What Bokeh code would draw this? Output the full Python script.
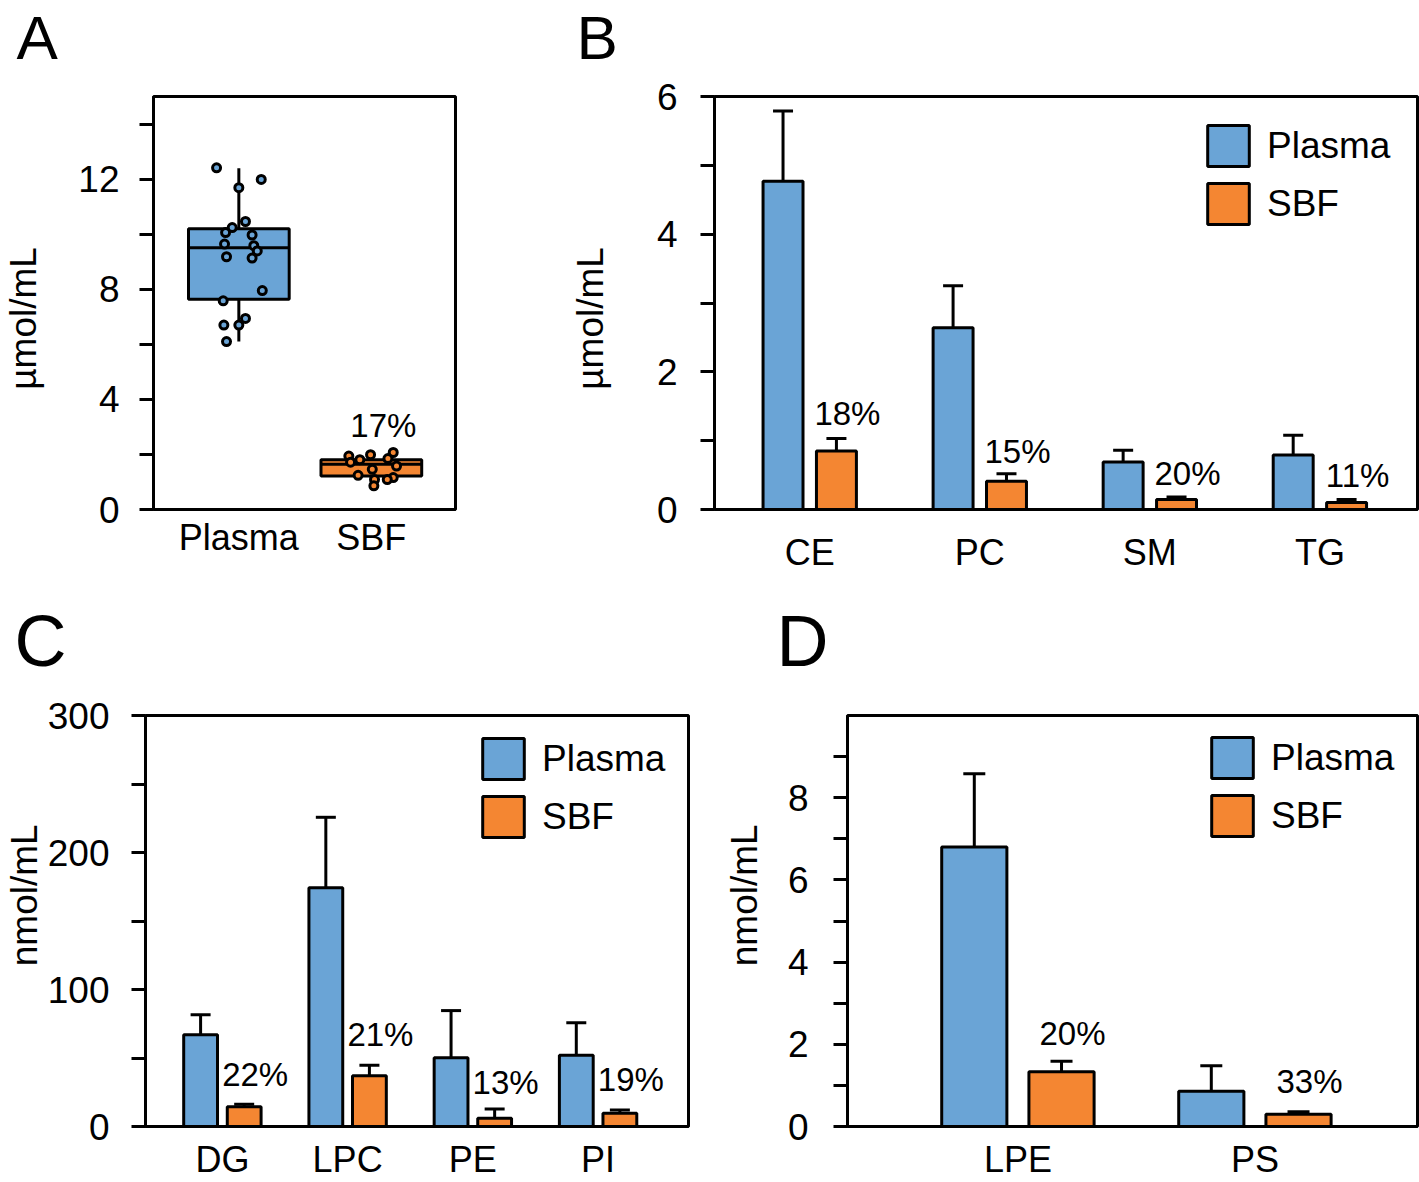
import numpy as np
from bokeh.plotting import figure
from bokeh.models import (ColumnDataSource, FixedTicker, Legend, LegendItem,
                          Whisker, TeeHead, Range1d)
from bokeh.layouts import column, row
from bokeh.embed import file_html
from bokeh.resources import INLINE
from bokeh.core.properties import value

FONT = "Liberation Sans"
BLUE = "#6AA4D6"
ORANGE = "#F48632"
NB = "\u00a0"

# ---------------- data ----------------
# Panel A (box plot, umol/mL)
groups_A = ["Plasma", "SBF"]
plasma_pts = [12.41, 11.99, 11.69, 10.46, 10.24, 10.06, 9.97, 9.64, 9.58, 9.39,
              9.18, 9.13, 7.95, 7.58, 6.94, 6.70, 6.70, 6.10]
plasma_jit = [-0.168, 0.169, 0.0, 0.05, -0.05, -0.10, 0.10, -0.108, 0.113, 0.139,
              -0.093, 0.10, 0.177, -0.118, 0.05, -0.113, 0.0, -0.093]
sbf_pts = [1.94, 1.81, 1.72, 1.99, 2.07, 1.85, 1.58, 1.46, 1.24, 1.16, 1.09, 1.09, 0.86]
sbf_jit = [-0.17, -0.087, -0.157, -0.006, 0.165, 0.125, 0.19, 0.007, -0.10, 0.165,
           0.12, 0.024, 0.019]
box_q1 = [7.64, 1.22]
box_med = [9.51, 1.64]
box_q3 = [10.20, 1.81]
whisk_lo = [6.10, 0.86]
whisk_hi = [12.39, 2.09]
pct_A = ["17%"]
pct_A_y = [3.04]

# Panel B (umol/mL)
cats_B = ["CE", "PC", "SM", "TG"]
plasma_B = [4.77, 2.64, 0.69, 0.79]
plasma_B_sd = [1.02, 0.61, 0.17, 0.29]
sbf_B = [0.85, 0.41, 0.145, 0.10]
sbf_B_sd = [0.18, 0.11, 0.035, 0.045]
pct_B = ["18%", "15%", "20%", "11%"]
pct_B_y = [1.39, 0.84, 0.52, 0.49]

# Panel C (nmol/mL)
cats_C = ["DG", "LPC", "PE", "PI"]
plasma_C = [67.0, 174.2, 50.1, 52.0]
plasma_C_sd = [14.5, 51.5, 34.5, 23.7]
sbf_C = [14.5, 37.0, 6.0, 9.7]
sbf_C_sd = [1.7, 7.7, 6.8, 2.3]
pct_C = ["22%", "21%", "13%", "19%"]
pct_C_y = [38.0, 67.4, 32.2, 34.1]

# Panel D (nmol/mL)
cats_D = ["LPE", "PS"]
plasma_D = [6.80, 0.86]
plasma_D_sd = [1.78, 0.62]
sbf_D = [1.33, 0.30]
sbf_D_sd = [0.26, 0.06]
pct_D = ["20%", "33%"]
pct_D_y = [2.26, 1.10]

panel_letters_top = ["A", "B"]
panel_letters_bottom = ["C", "D"]


def style_axes(p, yticks, yminor, ystandoff, xstandoff, xticks, xlabels, ylabel, ylstandoff):
    p.xgrid.visible = False
    p.ygrid.visible = False
    p.outline_line_color = "black"
    p.outline_line_width = 3
    p.outline_line_alpha = 1
    p.yaxis.ticker = FixedTicker(ticks=yticks, minor_ticks=yminor)
    p.yaxis.major_tick_out = 14
    p.yaxis.major_tick_in = 0
    p.yaxis.minor_tick_out = 14
    p.yaxis.minor_tick_in = 0
    p.yaxis.major_tick_line_width = 3
    p.yaxis.minor_tick_line_width = 3
    p.yaxis.axis_line_width = 3
    p.yaxis.major_label_text_font = FONT
    p.yaxis.major_label_text_font_size = "37px"
    p.yaxis.major_label_text_color = "black"
    p.yaxis.major_label_standoff = ystandoff
    p.yaxis.axis_label = ylabel
    p.yaxis.axis_label_text_font = FONT
    p.yaxis.axis_label_text_font_size = "37px"
    p.yaxis.axis_label_text_font_style = "normal"
    p.yaxis.axis_label_text_color = "black"
    p.yaxis.axis_label_standoff = ylstandoff
    p.xaxis.ticker = FixedTicker(ticks=xticks, minor_ticks=[])
    p.xaxis.major_label_overrides = {t: l for t, l in zip(xticks, xlabels)}
    p.xaxis.major_tick_out = 0
    p.xaxis.major_tick_in = 0
    p.xaxis.minor_tick_out = 0
    p.xaxis.minor_tick_in = 0
    p.xaxis.axis_line_width = 3
    p.xaxis.major_label_text_font = FONT
    p.xaxis.major_label_text_font_size = "36px"
    p.xaxis.major_label_text_color = "black"
    p.xaxis.major_label_standoff = xstandoff


def bar_panel(cats, plasma, plasma_sd, sbf, sbf_sd, pct, pct_y, *, width, height,
              borders, xr, ymax, yticks, yminor, offset, bar_w, cap, ystandoff,
              xstandoff, ylabel, ylstandoff, legend_loc):
    bl, br, bt, bb = borders
    p = figure(width=width, height=height, x_range=Range1d(*xr), y_range=Range1d(0, ymax),
               output_backend="svg", toolbar_location=None,
               min_border_left=bl, min_border_right=br, min_border_top=bt,
               min_border_bottom=bb, background_fill_color="white",
               border_fill_color="white")
    idx = np.arange(len(cats))
    srcP = ColumnDataSource(dict(x=idx - offset, top=plasma,
                                 up=np.array(plasma) + np.array(plasma_sd)))
    srcS = ColumnDataSource(dict(x=idx + offset, top=sbf,
                                 up=np.array(sbf) + np.array(sbf_sd)))
    for src in (srcP, srcS):
        p.add_layout(Whisker(source=src, base="x", lower="top", upper="up",
                             dimension="height", line_color="black", line_width=3,
                             upper_head=TeeHead(size=cap, line_width=3, line_color="black"),
                             lower_head=None, level="glyph"))
    rP = p.vbar(x="x", top="top", bottom=0, width=bar_w, source=srcP, fill_color=BLUE,
                line_color="black", line_width=3)
    rS = p.vbar(x="x", top="top", bottom=0, width=bar_w, source=srcS, fill_color=ORANGE,
                line_color="black", line_width=3)
    p.text(x=idx + offset, y=pct_y, text=pct, text_font=value(FONT), text_font_size="33px",
           text_align="center", text_baseline="alphabetic", x_offset=11, text_color="black")
    style_axes(p, yticks, yminor, ystandoff, xstandoff, list(range(len(cats))), cats,
               ylabel, ylstandoff)
    legend = Legend(items=[LegendItem(label="Plasma", renderers=[rP]),
                           LegendItem(label="SBF", renderers=[rS])],
                    location=legend_loc, glyph_width=52, glyph_height=51, label_height=51,
                    spacing=7, label_standoff=13, padding=0, margin=0,
                    border_line_color=None, background_fill_alpha=0,
                    label_text_font=FONT, label_text_font_size="37px",
                    label_text_color="black")
    p.add_layout(legend)
    return p


def letter_strip(height, letters, xs, yc, size):
    s = figure(width=1419, height=height, x_range=Range1d(0, 1419),
               y_range=Range1d(height, 0), output_backend="svg", toolbar_location=None,
               min_border=0, x_axis_location=None, y_axis_location=None,
               outline_line_color=None, background_fill_color="white",
               border_fill_color="white")
    s.grid.visible = False
    s.text(x=xs, y=[yc] * len(letters), text=letters, text_font=value(FONT),
           text_font_size=size, text_align="left", text_baseline="alphabetic",
           text_color="black")
    return s


# ---------------- panel letters ----------------
strip1 = letter_strip(73, panel_letters_top, [16, 576], 36.5, "62px")
strip2 = letter_strip(103, panel_letters_bottom, [14, 776], 60.5, "72px")

# ---------------- Panel A ----------------
pA = figure(width=470, height=507, x_range=Range1d(0.356, 2.635), y_range=Range1d(0, 15),
            output_backend="svg", toolbar_location=None,
            min_border_left=153, min_border_right=15, min_border_top=23, min_border_bottom=71,
            background_fill_color="white", border_fill_color="white")
xA = np.array([1, 2])
pA.segment(x0=xA, x1=xA, y0=box_q3, y1=whisk_hi, line_color="black", line_width=3)
pA.segment(x0=xA, x1=xA, y0=whisk_lo, y1=box_q1, line_color="black", line_width=3)
pA.vbar(x=xA, bottom=box_q1, top=box_q3, width=0.76, fill_color=[BLUE, ORANGE],
        line_color="black", line_width=3)
pA.segment(x0=xA - 0.38, x1=xA + 0.38, y0=box_med, y1=box_med, line_color="black",
           line_width=3)
pA.scatter(x=1 + np.array(plasma_jit), y=plasma_pts, size=8, fill_color=BLUE,
           line_color="black", line_width=3)
pA.scatter(x=2 + np.array(sbf_jit), y=sbf_pts, size=8, fill_color=ORANGE,
           line_color="black", line_width=3)
pA.text(x=[2], y=pct_A_y, text=pct_A, text_font=value(FONT), text_font_size="33px",
        text_align="center", text_baseline="alphabetic", x_offset=12, text_color="black")
style_axes(pA, [0, 4, 8, 12], [2, 6, 10, 14], 20, 7, [1, 2], groups_A,
           "µmol/mL" + NB * 3, 31)

# ---------------- Panel B ----------------
pB = bar_panel(cats_B, plasma_B, plasma_B_sd, sbf_B, sbf_B_sd, pct_B, pct_B_y,
               width=949, height=507, borders=(244, 2, 23, 71), xr=(-0.560, 3.574),
               ymax=6, yticks=[0, 2, 4, 6], yminor=[1, 3, 5], offset=0.157, bar_w=0.235,
               cap=20, ystandoff=23, xstandoff=22, ylabel="µmol/mL" + NB * 3,
               ylstandoff=43, legend_loc=(488, 280))

# ---------------- Panel C ----------------
pC = bar_panel(cats_C, plasma_C, plasma_C_sd, sbf_C, sbf_C_sd, pct_C, pct_C_y,
               width=700, height=499, borders=(145, 12, 32, 53), xr=(-0.614, 3.722),
               ymax=300, yticks=[0, 100, 200, 300], yminor=[50, 150, 250], offset=0.174,
               bar_w=0.27, cap=20, ystandoff=22, xstandoff=12,
               ylabel=NB * 5 + "nmol/mL", ylstandoff=0, legend_loc=(332, 284))

# ---------------- Panel D ----------------
pD = bar_panel(cats_D, plasma_D, plasma_D_sd, sbf_D, sbf_D_sd, pct_D, pct_D_y,
               width=719, height=499, borders=(147, 2, 32, 53), xr=(-0.719, 1.686),
               ymax=10, yticks=[0, 2, 4, 6, 8], yminor=[1, 3, 5, 7, 9], offset=0.184,
               bar_w=0.275, cap=22, ystandoff=25, xstandoff=12,
               ylabel=NB * 5 + "nmol/mL", ylstandoff=20, legend_loc=(359, 285))

layout = column(strip1, row(pA, pB, spacing=0), strip2, row(pC, pD, spacing=0), spacing=0)
open("out.html", "w").write(file_html(layout, INLINE))
